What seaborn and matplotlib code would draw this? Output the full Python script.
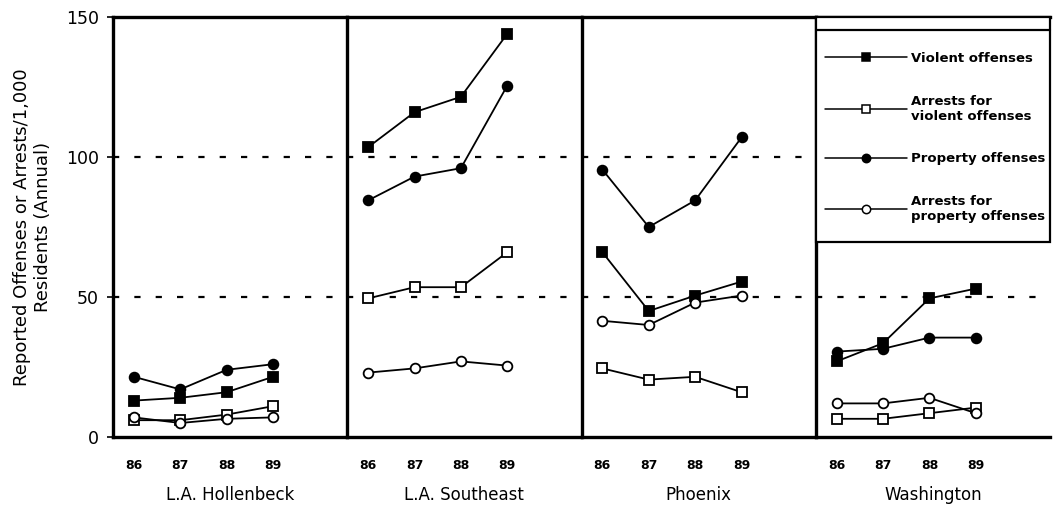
import matplotlib
matplotlib.use("Agg")
import matplotlib.pyplot as plt
import seaborn as sns
import pandas as pd
from matplotlib.lines import Line2D
from matplotlib.patches import Rectangle

# ---- data ----
years = [86, 87, 88, 89]
sites = ["L.A. Hollenbeck", "L.A. Southeast", "Phoenix", "Washington"]
series_names = ["Violent offenses", "Arrests for\nviolent offenses",
                "Property offenses", "Arrests for\nproperty offenses"]

violent_offenses = [[13, 14, 16, 21.5],
                    [103.5, 116, 121.5, 144],
                    [66, 45, 50.5, 55.5],
                    [27, 33.5, 49.5, 53]]
arrests_violent = [[6, 6, 8, 11],
                   [49.5, 53.5, 53.5, 66],
                   [24.5, 20.5, 21.5, 16],
                   [6.5, 6.5, 8.5, 10.5]]
property_offenses = [[21.5, 17, 24, 26],
                     [84.5, 93, 96, 125.5],
                     [95.5, 75, 84.5, 107],
                     [30.5, 31.5, 35.5, 35.5]]
arrests_property = [[7, 5, 6.5, 7],
                    [23, 24.5, 27, 25.5],
                    [41.5, 40, 48, 50.5],
                    [12, 12, 14, 8.5]]

all_series = [violent_offenses, arrests_violent, property_offenses, arrests_property]

rows = []
for s_name, s_vals in zip(series_names, all_series):
    for site, vals in zip(sites, s_vals):
        for yr, v in zip(years, vals):
            rows.append({"site": site, "series": s_name, "year": yr, "value": v})
df = pd.DataFrame(rows)

# ---- style ----
sns.set_style("white")
plt.rcParams["font.family"] = ["DejaVu Sans"]
plt.rcParams["text.color"] = "black"
plt.rcParams["axes.labelcolor"] = "black"
plt.rcParams["xtick.color"] = "black"
plt.rcParams["ytick.color"] = "black"

marker_of = dict(zip(series_names, ["s", "s", "o", "o"]))
face_of = dict(zip(series_names, ["black", "white", "black", "white"]))

fig = plt.figure(figsize=(10.53, 5.12), dpi=100)
gs = fig.add_gridspec(1, 4, left=113/1053, right=1050/1053,
                      top=1-17/512, bottom=1-437/512, wspace=0)
axes = [fig.add_subplot(gs[0, i]) for i in range(4)]

spine_lw = 2.4
for i, (ax, site) in enumerate(zip(axes, sites)):
    ax.axhline(100, color="black", lw=1.6, ls=(0, (2.8, 6.8)), zorder=1)
    ax.axhline(50, color="black", lw=1.6, ls=(0, (2.8, 6.8)), zorder=1)
    sub = df[df["site"] == site]
    for s in series_names:
        d = sub[sub["series"] == s]
        sns.lineplot(data=d, x="year", y="value", ax=ax, color="black",
                     marker=marker_of[s], markerfacecolor=face_of[s],
                     markeredgecolor="black", markeredgewidth=1.3,
                     markersize=7, linewidth=1.3, legend=False, zorder=3)
    ax.set_xlim(85.55, 90.6)
    ax.set_ylim(0, 150)
    ax.set_xticks(years)
    ax.set_xticklabels([str(y) for y in years], fontsize=9, fontweight="bold")
    ax.tick_params(axis="x", length=0, pad=16, labelcolor="black")
    ax.set_xlabel(site, fontsize=12, labelpad=10, color="black")
    ax.set_ylabel("")
    for sp in ["top", "bottom", "left"]:
        ax.spines[sp].set_visible(True)
        ax.spines[sp].set_linewidth(spine_lw)
        ax.spines[sp].set_color("black")
    ax.spines["right"].set_visible(False)
    ax.set_xticks([85.55], minor=True)
    ax.tick_params(axis="x", which="minor", length=6, width=1.2,
                   direction="out", color="black")
    if i == 0:
        ax.set_yticks([0, 50, 100, 150])
        ax.set_yticklabels(["0", "50", "100", "150"], fontsize=12.5)
        ax.tick_params(axis="y", direction="inout", length=8, width=1.2,
                       pad=6, color="black", labelcolor="black", left=True)
        ax.set_ylabel("Reported Offenses or Arrests/1,000\nResidents (Annual)",
                      fontsize=13, labelpad=10, linespacing=1.2, color="black")
    else:
        ax.set_yticks([])

# legend box in the Washington panel
ax4 = axes[3]
box_bottom = (437 - 242) / 420
box_top = (437 - 30) / 420
ax4.add_patch(Rectangle((0, box_bottom), 1, 1 - box_bottom, transform=ax4.transAxes,
                        facecolor="white", edgecolor="black", lw=1.6,
                        zorder=5, clip_on=False))
ax4.plot([0, 1], [box_top, box_top], transform=ax4.transAxes, color="black",
         lw=1.6, zorder=6, clip_on=False)

handles = [Line2D([0], [0], color="black", lw=1.1, marker=marker_of[s],
                  markerfacecolor=face_of[s], markeredgecolor="black",
                  markeredgewidth=1.1, markersize=6) for s in series_names]
leg = ax4.legend(handles, series_names, loc="upper left",
                 bbox_to_anchor=(0.0, box_top - 0.03), frameon=False,
                 fontsize=9.5, handlelength=6.2, handletextpad=0.35,
                 labelspacing=2.25, borderaxespad=0.3)
leg.set_zorder(7)
for t in leg.get_texts():
    t.set_fontweight("bold")
    t.set_color("black")

fig.savefig("out.png", dpi=100)
